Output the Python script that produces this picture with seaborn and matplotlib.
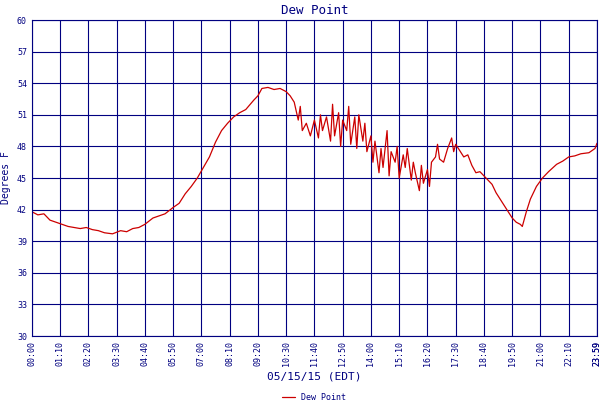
import numpy as np
import pandas as pd
import matplotlib
matplotlib.use("Agg")
import matplotlib.pyplot as plt
import seaborn as sns

# minutes after midnight and dew point (F)
minutes = [0, 15, 30, 45, 60, 75, 90, 105, 120, 135, 150, 165, 180, 200, 220, 235, 250, 265,
           280, 300, 315, 330, 350, 365, 380, 395, 410, 425, 440, 455, 470, 485, 500, 515,
           530, 550, 560, 570, 585, 600, 615, 630, 640, 650,
           660, 665, 670, 680, 690, 700, 710, 715, 720, 730, 740, 745, 750, 760, 765, 770,
           780, 785, 790, 800, 805, 810, 820, 825, 830, 840, 845, 850, 860, 865, 870, 880,
           885, 890, 900, 905, 910, 920, 925, 930, 940, 945, 950, 960, 965, 970, 980, 985,
           990, 1000, 1005, 1010, 1020, 1030, 1040, 1045, 1050, 1060, 1070, 1080, 1090,
           1100, 1110, 1120, 1130, 1140, 1150, 1160, 1170, 1180, 1190, 1200, 1210, 1215,
           1225, 1235, 1250, 1265, 1280, 1300, 1315, 1330, 1345, 1360, 1380, 1395, 1400]
dewpoint = [41.8, 41.5, 41.6, 41.0, 40.8, 40.6, 40.4, 40.3, 40.2, 40.3, 40.1, 40.0, 39.8, 39.7,
            40.0, 39.9, 40.2, 40.3, 40.6, 41.2, 41.4, 41.6, 42.2, 42.6, 43.5, 44.2, 45.0, 46.0,
            47.0, 48.4, 49.5, 50.2, 50.8, 51.2, 51.5, 52.4, 52.8, 53.5, 53.6, 53.4, 53.5, 53.2,
            52.8, 52.2,
            50.5, 51.8, 49.5, 50.2, 49.0, 50.5, 48.8, 51.0, 49.5, 50.8, 48.5, 52.0, 49.0, 51.2,
            48.0, 50.5, 49.5, 51.8, 48.2, 50.8, 47.8, 51.0, 48.5, 50.2, 47.5, 49.0, 46.5, 48.5,
            45.5, 47.8, 46.0, 49.5, 45.2, 47.5, 46.5, 48.0, 45.0, 47.2, 46.0, 47.8, 44.8, 46.5,
            45.5, 43.8, 46.2, 44.5, 45.8, 44.2, 46.5, 47.0, 48.2, 46.8, 46.5, 47.8, 48.8,
            47.5, 48.2, 47.6, 47.0, 47.2, 46.2, 45.5, 45.6, 45.2, 44.8, 44.4, 43.6, 43.0,
            42.4, 41.8, 41.2, 40.8, 40.6, 40.4, 41.8, 43.0, 44.2, 45.0, 45.6, 46.3, 46.6,
            47.0, 47.1, 47.3, 47.4, 47.8, 48.3]

tick_pos = list(range(0, 1401, 70)) + [1400]
tick_lab = ["%02d:%02d" % (m // 60, m % 60) for m in range(0, 1401, 70)] + ["23:59"]

navy = "#000080"
sns.set_style("white")
plt.rcParams["font.family"] = ["DejaVu Sans Mono"]

df = pd.DataFrame({"minute": minutes, "dew": dewpoint})
fig, ax = plt.subplots(figsize=(6, 4), dpi=100)
sns.lineplot(data=df, x="minute", y="dew", color="#cc0000", linewidth=0.9, ax=ax, label="Dew Point")

ax.set_xlim(0, 1400)
ax.set_ylim(30, 60)
ax.set_yticks(range(30, 61, 3))
ax.set_xticks(tick_pos)
ax.set_xticklabels(tick_lab, rotation=90, fontsize=6, color=navy)
ax.tick_params(axis="y", labelsize=6, labelcolor=navy, length=0)
ax.tick_params(axis="x", length=0)
ax.grid(True, color=navy, linewidth=0.8)
for s in ax.spines.values():
    s.set_color(navy)
ax.set_title("Dew Point", color=navy, fontsize=9, pad=4)
ax.set_xlabel("05/15/15 (EDT)", color=navy, fontsize=8)
ax.set_ylabel("Degrees F", color=navy, fontsize=7)
ax.legend(loc="upper center", bbox_to_anchor=(0.5, -0.165), frameon=False, fontsize=6,
          labelcolor=navy, handlelength=1.5, borderpad=0.1)

fig.subplots_adjust(left=0.053, right=0.995, top=0.95, bottom=0.16)
fig.savefig("out.png")
